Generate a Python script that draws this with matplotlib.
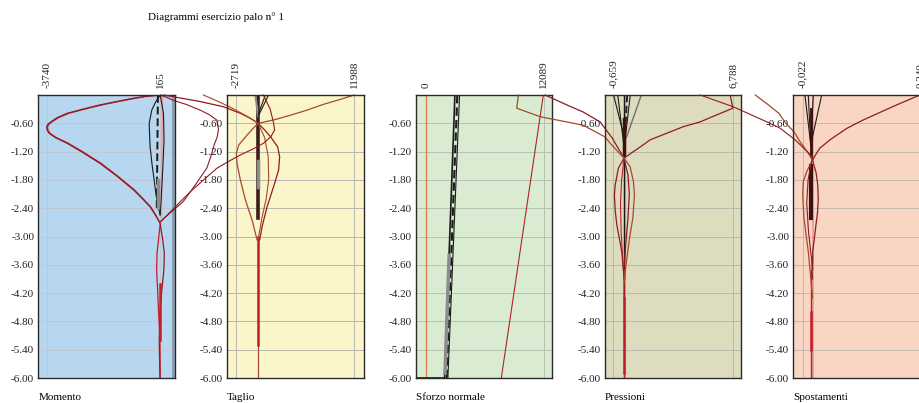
import matplotlib.pyplot as plt

plt.rcParams['font.family'] = ['Liberation Serif', 'DejaVu Serif']

# ---- data (depth z in m, values in panel units) ----
depth_ticks = [-0.60, -1.20, -1.80, -2.40, -3.00, -3.60, -4.20, -4.80, -5.40, -6.00]

panel_names = ['Momento', 'Taglio', 'Sforzo normale', 'Pressioni', 'Spostamenti']
panel_ticks = [[-3740, 165], [-2719, 11988], [0, 12089], [-0.659, 6.788], [-0.022, 0.240]]
panel_tick_labels = [['-3740', '165'], ['-2719', '11988'], ['0', '12089'],
                     ['-0,659', '6,788'], ['-0,022', '0,240']]
panel_xlim = [(-4029, 660), (-3878, 13135), (-1079, 12953), (-1.214, 7.299), (-0.043, 0.262)]
panel_bg = ['#b7d6ef', '#fbf6c9', '#d9ecd1', '#dedcbf', '#f9d6c4']
panel_grid = ['#c6c6d4', '#b8b8b0', '#b8bfb4', '#b8b8ac', '#c4b8b0']

# Momento
mom_red_z = [0, -0.03, -0.07, -0.14, -0.21, -0.3, -0.39, -0.48, -0.57, -0.62, -0.67, -0.74,
             -0.81, -0.9, -1.02, -1.2, -1.45, -1.72, -2.01, -2.2, -2.37, -2.55, -2.72,
             -3.07, -3.35, -3.71, -4.13, -4.56, -5.19, -6.0]
mom_red_v = [160, -380, -770, -1350, -1910, -2500, -3050, -3380, -3600, -3700, -3740, -3730,
             -3660, -3450, -3050, -2550, -1910, -1330, -760, -450, -190, 0, 155,
             245, 300, 285, 215, 155, 125, 150]
mom_red2_v = [160, -330, -700, -1290, -1850, -2440, -2990, -3330, -3560, -3660, -3710, -3700,
              -3630, -3420, -3010, -2510, -1870, -1300, -730, -430, -170, 10, 160,
              100, 50, 35, 70, 100, 150, 160]
mom_out_z = [0, -0.05, -0.11, -0.2, -0.32, -0.42, -0.53, -0.64, -0.74, -0.9, -1.06, -1.3,
             -1.55, -1.91, -2.26, -2.5, -2.68]
mom_out_v = [170, 380, 600, 1050, 1530, 1850, 2100, 2140, 2160, 2110, 2010, 1900,
             1760, 1360, 950, 500, 170]
mom_blk1_z = [0, -0.15, -0.32, -0.6, -0.85, -1.09, -1.48, -1.8, -2.12, -2.37, -2.54]
mom_blk1_v = [160, 0, -130, -220, -205, -190, -120, -50, 15, 95, 155]
mom_blk2_z = [0, -0.39, -0.95, -1.59, -2.22, -2.54]
mom_blk2_v = [160, 270, 290, 245, 190, 155]

# Taglio
tag_a_z = [0, -0.1, -0.2, -0.32, -0.43, -0.53, -0.6, -0.72, -0.85, -1.06, -1.24, -1.45, -1.8,
           -2.22, -2.65, -3.07]
tag_a_v = [11988, 10100, 8100, 6100, 4000, 1900, 0, -700, -1380, -2430, -2719, -2630, -2220,
           -1600, -760, -140]
tag_b_z = [0, -0.04, -0.14, -0.25, -0.39, -0.5, -0.6, -0.74, -0.88, -1.1, -1.31, -1.59, -1.94,
           -2.37, -2.79, -3.07]
tag_b_v = [-11800, -10500, -7200, -4300, -2200, -900, 0, 800, 1520, 2430, 2680, 2550, 1930,
           1110, 490, 190]
tag_c_z = [0, -0.15, -0.3, -0.45, -0.6, -0.9, -1.3, -1.8, -2.2, -2.6, -3.05]
tag_c_v = [-6830, -4800, -3000, -1400, 0, 800, 1250, 1310, 1000, 480, 0]
tag_d_z = [0, -0.3, -0.6, -0.74, -0.88, -1.02, -1.15, -1.27, -1.41, -1.55, -1.8, -2.05,
           -2.4, -2.68]
tag_d_v = [650, 1500, 1930, 2050, 1600, 690, -700, -2220, -3700, -5120, -6800, -8450,
           -10500, -12100]

# Sforzo normale
nor_blk1_z = [0, -6, -6]
nor_blk1_v = [2940, 1880, -1500]
nor_blk2_z = [0, -6]
nor_blk2_v = [3420, 2220]
nor_dash_v = [3190, 2090]
nor_red_v = [12030, 7710]

# Pressioni
pre_a_z = [0, -0.21, -0.36, -0.57, -0.91, -1.34, -1.55, -1.91, -2.12, -2.45, -2.75,
           -3.32, -3.88, -4.3]
pre_a_v = [-4.92, -3.57, -2.55, -1.49, -0.74, 0, -0.35, -0.55, -0.6, -0.55, -0.45,
           -0.14, 0.01, 0]
pre_b_z = [0, -0.28, -0.46, -0.64, -0.89, -1.02, -1.34, -1.52, -1.84, -2.12, -2.61,
           -3.04, -3.46, -3.74, -4.0]
pre_b_v = [-6.59, -6.69, -5.23, -2.55, -1.18, -0.87, 0, 0.38, 0.59, 0.65, 0.55,
           0.34, 0.18, 0.07, 0]
pre_c_z = [-3.7, -3.2, -2.6, -2.1, -1.7, -1.34, -1.28, -1.2, -1.08, -0.95, -0.81, -0.67,
           -0.57, -0.42, -0.28, 0]
pre_c_v = [0, 0.1, 0.25, 0.33, 0.25, 0, 0.25, 0.59, 1.1, 1.63, 2.67, 3.71,
           4.75, 5.79, 6.788, 6.62]
pre_d_z = [-1.34, -1.8, -2.3, -2.9, -3.5, -3.9]
pre_d_v = [0, -0.15, -0.22, -0.18, -0.08, 0]

# Spostamenti
spo_a_z = [0, -0.21, -0.53, -0.71, -0.95, -1.13, -1.28, -1.38, -1.65, -1.9, -2.2, -2.5,
           -2.75, -3.05, -3.32, -3.7]
spo_a_v = [0.240, 0.188, 0.113, 0.076, 0.039, 0.016, 0.006, 0, 0.008, 0.0115, 0.0128, 0.011,
           0.0077, 0.004, 0.0005, 0]
spo_b_z = [0, -0.2, -0.39, -0.57, -0.8, -0.99, -1.2, -1.38, -1.6, -1.84, -2.12, -2.61,
           -3.0, -3.32, -3.88, -4.3]
spo_b_v = [-0.128, -0.1, -0.075, -0.062, -0.04, -0.028, -0.012, 0, -0.012, -0.0207,
           -0.022, -0.0191, -0.014, -0.0095, -0.004, 0]
spo_c_z = [0, -0.25, -0.57, -0.7, -0.95, -1.31, -1.8, -2.3, -2.9, -3.5, -3.9]
spo_c_v = [-0.251, -0.177, -0.102, -0.073, -0.039, 0, -0.01, -0.013, -0.009, -0.002, 0]

DRED = '#8e1b24'
RED = '#c41e2a'
BROWN = '#a44a2c'
BLK = '#1a1a1a'
GREY = '#8c8c8c'
PINK = '#eea0a0'

fig = plt.figure(figsize=(9.2, 4.03), dpi=100)
W, H = 920.0, 403.0

axes = []
for i in range(5):
    left = 38.3 + 188.75 * i
    ax = fig.add_axes([left / W, (H - 378) / H, 136.5 / W, 283 / H])
    ax.set_facecolor(panel_bg[i])
    ax.set_xlim(panel_xlim[i])
    ax.set_ylim(-6, 0)
    ax.set_yticks(depth_ticks)
    ax.set_yticklabels(['%.2f' % t for t in depth_ticks])
    ax.xaxis.tick_top()
    ax.set_xticks(panel_ticks[i])
    ax.set_xticklabels(panel_tick_labels[i], rotation=90)
    ax.tick_params(length=0, labelsize=8, colors='#222222')
    ax.tick_params(axis='x', pad=5)
    ax.tick_params(axis='y', pad=3)
    ax.grid(True, color=panel_grid[i], lw=0.7)
    ax.set_axisbelow(True)
    for s in ax.spines.values():
        s.set_color('#2a2a2a')
        s.set_linewidth(1.0)
    fig.text(left / W, 1 - 398 / H, panel_names[i], fontsize=8, va='center')
    axes.append(ax)

ax_m, ax_t, ax_n, ax_p, ax_s = axes

fig.text(148 / W, 1 - 17 / H, 'Diagrammi esercizio palo n\u00b0 1', fontsize=8, va='center')

# Momento
ax_m.axvspan(570, 660, color='#8c9fb4', lw=0)
ax_m.plot([230, 200], [0, -2.6], color=PINK, lw=1.2)
ax_m.plot(mom_blk1_v, mom_blk1_z, color=BLK, lw=0.8)
ax_m.plot(mom_blk2_v, mom_blk2_z, color=BLK, lw=0.8)
ax_m.plot([80, 40], [0, -2.4], color=BLK, lw=1.4, ls=(0, (4, 2)))
ax_m.plot([100, 100], [-1.8, -2.37], color=GREY, lw=2.5)
ax_m.plot(mom_red2_v, mom_red_z, color=RED, lw=0.9)
ax_m.plot(mom_red_v, mom_red_z, color=DRED, lw=0.9)
ax_m.plot([150, 150], [-4.0, -5.2], color=RED, lw=1.8)
ax_m.plot(mom_out_v, mom_out_z, color=DRED, lw=0.8, clip_on=False)

# Taglio
ax_t.plot([0, 0], [0, -2.6], color='#3c1c1c', lw=2.6)
ax_t.plot([-60, -60], [-1.4, -1.95], color=GREY, lw=2.5)
ax_t.plot([-350, 0], [0, -0.45], color=GREY, lw=1.5)
ax_t.plot([900, 30], [0, -0.4], color=BLK, lw=0.8)
ax_t.plot([1300, 0], [0, -0.45], color=BLK, lw=0.8)
ax_t.plot([-50, -50], [-3.0, -6.0], color=BROWN, lw=0.9)
ax_t.plot([-50, -50], [-3.0, -5.3], color=RED, lw=1.8)
ax_t.plot(tag_a_v, tag_a_z, color=BROWN, lw=0.9, clip_on=False)
ax_t.plot(tag_b_v, tag_b_z, color=DRED, lw=0.9, clip_on=False)
ax_t.plot(tag_c_v, tag_c_z, color=BROWN, lw=0.8, clip_on=False)
ax_t.plot(tag_d_v, tag_d_z, color=DRED, lw=0.8, clip_on=False)

# Sforzo normale
ax_n.plot([0, 0], [0, -6], color='#e07a50', lw=0.9)
ax_n.plot(nor_blk1_v, nor_blk1_z, color=BLK, lw=1.2)
ax_n.plot(nor_blk2_v, nor_blk2_z, color=BLK, lw=0.8)
ax_n.plot(nor_dash_v, nor_blk2_z, color=BLK, lw=1.5, ls=(0, (4, 2)))
ax_n.plot([2350, 1920], [-3.4, -5.9], color=GREY, lw=2.5)
ax_n.plot(nor_red_v, nor_blk2_z, color='#b22222', lw=0.8)

# Pressioni
ax_p.plot([0.05, 0.05], [0, -6], color=PINK, lw=1.6)
ax_p.plot([-0.65, -0.02], [0, -0.85], color=BLK, lw=0.8)
ax_p.plot([-0.39, 0], [0, -1.1], color=BLK, lw=0.8)
ax_p.plot([0.39, 0.05], [0, -1.0], color=BLK, lw=0.8)
ax_p.plot([1.08, 0.15], [0, -0.9], color='#707070', lw=1.0)
ax_p.plot([0.2, 0.03], [0, -1.0], color=BLK, lw=1.3, ls=(0, (4, 2)))
ax_p.plot([0, 0], [0, -3.9], color=BLK, lw=1.0)
ax_p.plot([0, 0], [-0.5, -1.25], color='#3a1010', lw=2.5)
ax_p.plot([0, 0], [-3.7, -6], color=RED, lw=1.0)
ax_p.plot([0, 0], [-4.3, -5.9], color=RED, lw=1.8)
ax_p.plot(pre_d_v, pre_d_z, color=RED, lw=0.8)
ax_p.plot(pre_c_v, pre_c_z, color=DRED, lw=0.9)
ax_p.plot(pre_a_v, pre_a_z, color=DRED, lw=0.9, clip_on=False)
ax_p.plot(pre_b_v, pre_b_z, color=BROWN, lw=0.9, clip_on=False)

# Spostamenti
ax_s.plot([0, 0], [0, -6], color=PINK, lw=1.4)
for v0 in [-0.0169, -0.0095, 0.0017, 0.0204]:
    ax_s.plot([v0, -0.004], [0, -1.06], color=BLK, lw=0.8)
ax_s.plot([-0.004, -0.004], [-0.3, -1.3], color='#3a1010', lw=2.0)
ax_s.plot([-0.004, -0.004], [-1.5, -2.6], color='#3a1010', lw=3.0)
ax_s.plot([-0.004, -0.004], [-3.7, -6], color=RED, lw=1.0)
ax_s.plot([-0.004, -0.004], [-4.6, -5.4], color=RED, lw=1.8)
ax_s.plot(spo_a_v, spo_a_z, color=DRED, lw=0.9)
ax_s.plot(spo_b_v, spo_b_z, color=BROWN, lw=0.9, clip_on=False)
ax_s.plot(spo_c_v, spo_c_z, color=DRED, lw=0.8, clip_on=False)

fig.savefig('out.png', dpi=100)
